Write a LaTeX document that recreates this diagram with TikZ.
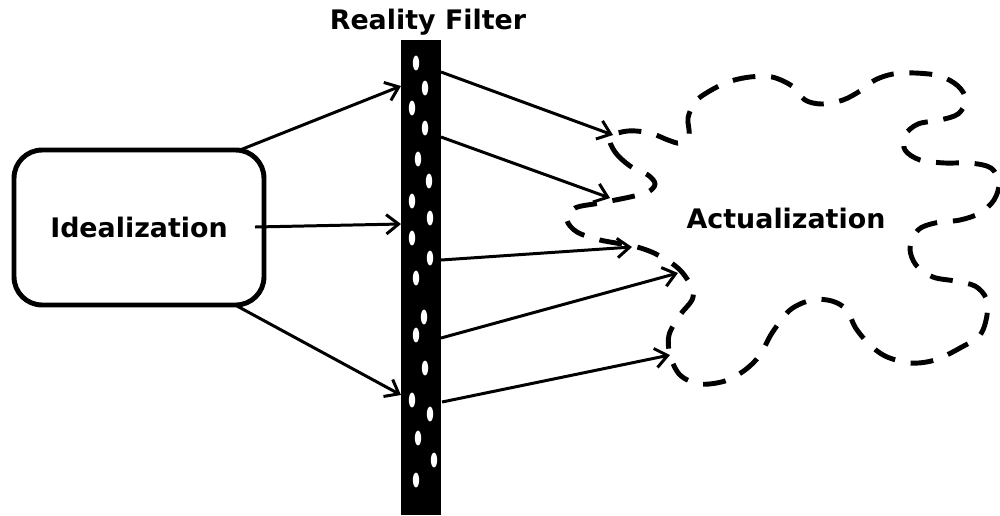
\documentclass[tikz,border=0pt]{standalone}
\usepackage{fontspec}
\setmainfont{DejaVu Sans}
\usetikzlibrary{arrows.meta}
\begin{document}
\begin{tikzpicture}[x=0.02cm,y=-0.02cm,
  lbl/.style={font=\bfseries\fontsize{15.3}{18}\selectfont, text=black},
  conn/.style={line width=1.7pt,-{Straight Barb[length=7pt,width=11pt]}},
  cloudline/.style={line width=2.8pt, dash pattern=on 13pt off 9pt, line cap=butt},
  hole/.style={white}]
\useasboundingbox (0,0) rectangle (1000,515);
% Idealization box
\node[draw, line width=2.8pt, rounded corners=16pt, minimum width=5cm, minimum height=3.1cm, inner sep=0pt, lbl] (ideal) at (139,227.5) {Idealization};
% Reality filter bar
\node[fill=black, minimum width=0.8cm, minimum height=9.5cm, inner sep=0pt] (filter) at (421,277.5) {};
\node[lbl] (title) at (428,22) {Reality Filter};
% holes in the filter
\foreach \x/\y in {416/63,425/88,412/108,425/128,418/159,429/181,412/201,430/218,412/238,430/258,416/278,424/317,416/335,425/368,412/400,430/414,418/438,434/460,416/480}
  \fill[hole] (\x,\y) ellipse [x radius=1.8pt, y radius=4.2pt];
% Actualization cloud
\draw[cloudline] plot[smooth cycle, tension=0.55] coordinates {
(610,137) (615,152) (630,166) (648,175) (655,184) (648,192) (630,197) (600,203) (575,208) (567,220) (577,232) (600,240) (637,247) (660,256) (680,270) (692,288) (692,300) (680,315) (669,335) (670,355) (680,375) (700,384) (725,381) (745,370) (760,355) (772,333) (790,310) (812,300) (832,301) (847,310) (855,327) (868,343) (885,356) (910,363) (935,360) (960,348) (980,335) (987,315) (986,298) (975,286) (955,281) (933,277) (916,265) (910,248) (918,230) (935,223) (960,220) (980,213) (994,200) (999,183) (991,168) (970,163) (945,163) (920,160) (905,150) (905,135) (918,124) (940,120) (958,114) (966,100) (958,86) (940,76) (915,73) (893,74) (875,80) (860,91) (843,100) (822,104) (805,100) (792,86) (772,77) (750,77) (728,82) (708,92) (695,102) (688,118) (689,135) (680,143) (668,140) (650,133) (628,131)};
\node[lbl] (actual) at (786,218) {Actualization};
% connector endpoints
\coordinate (i1) at (240,150);
\coordinate (i2) at (255,227);
\coordinate (i3) at (237,306);
\coordinate (f1) at (401,86);
\coordinate (f2) at (401,224);
\coordinate (f3) at (401,395);
\coordinate (g1) at (441,72);
\coordinate (g2) at (441,137);
\coordinate (g3) at (441,260);
\coordinate (g4) at (441,338);
\coordinate (g5) at (442,402);
\coordinate (c1) at (613,135);
\coordinate (c2) at (610,198);
\coordinate (c3) at (632,247);
\coordinate (c4) at (678,273);
\coordinate (c5) at (670,355);
\draw[conn] (i1) -- (f1);
\draw[conn] (i2) -- (f2);
\draw[conn] (i3) -- (f3);
\draw[conn] (g1) -- (c1);
\draw[conn] (g2) -- (c2);
\draw[conn] (g3) -- (c3);
\draw[conn] (g4) -- (c4);
\draw[conn] (g5) -- (c5);
\end{tikzpicture}
\end{document}
